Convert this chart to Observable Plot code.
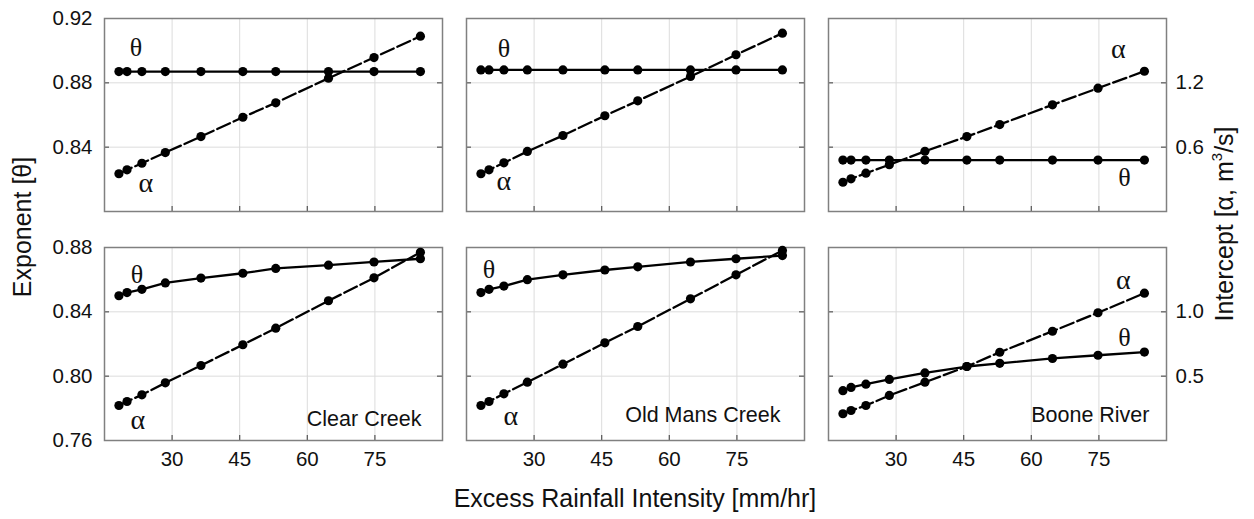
<!DOCTYPE html>
<html><head><meta charset="utf-8">
<script src="https://cdn.jsdelivr.net/npm/d3@7"></script>
<script src="https://cdn.jsdelivr.net/npm/@observablehq/plot@0.6"></script>
<style>
body{margin:0;background:#fff;}
#chart{position:relative;width:1254px;height:519px;overflow:hidden;background:#fff;font-family:"Liberation Sans",Arial,sans-serif;color:#111;}
.panel{position:absolute;}
.title{position:absolute;font-size:25px;white-space:nowrap;line-height:1;}
.rot{transform:translate(-50%,-50%) rotate(-90deg);}
.hor{transform:translate(-50%,-50%);}
sup{font-size:60%;vertical-align:0.7em;line-height:0;}
</style></head>
<body><div id="chart"></div>
<script>
// ---- data ----
const sites = ["Clear Creek", "Old Mans Creek", "Boone River"];
const intensity = [18.2, 20, 23.3, 28.5, 36.4, 45.7, 53, 64.7, 74.8, 85.1];
const xTicks = [30, 45, 60, 75];

// top row
const thetaTopClear   = [0.887, 0.887, 0.887, 0.887, 0.887, 0.887, 0.887, 0.887, 0.887, 0.887];
const alphaTopClear   = [0.352, 0.389, 0.450, 0.550, 0.699, 0.879, 1.014, 1.243, 1.436, 1.635];
const thetaTopOldMans = [0.888, 0.888, 0.888, 0.888, 0.888, 0.888, 0.888, 0.888, 0.888, 0.888];
const alphaTopOldMans = [0.352, 0.389, 0.454, 0.560, 0.709, 0.893, 1.032, 1.259, 1.462, 1.663];
const thetaTopBoone   = [0.832, 0.832, 0.832, 0.832, 0.832, 0.832, 0.832, 0.832, 0.832, 0.832];
const alphaTopBoone   = [0.273, 0.305, 0.357, 0.436, 0.562, 0.699, 0.811, 0.995, 1.150, 1.308];

// bottom row
const thetaBotClear   = [0.850, 0.852, 0.854, 0.858, 0.861, 0.864, 0.867, 0.869, 0.871, 0.873];
const alphaBotClear   = [0.272, 0.303, 0.355, 0.448, 0.583, 0.744, 0.873, 1.086, 1.264, 1.463];
const thetaBotOldMans = [0.852, 0.854, 0.856, 0.860, 0.863, 0.866, 0.868, 0.871, 0.873, 0.875];
const alphaBotOldMans = [0.272, 0.303, 0.363, 0.453, 0.593, 0.759, 0.886, 1.101, 1.288, 1.477];
const thetaBotBoone   = [0.791, 0.793, 0.795, 0.798, 0.802, 0.806, 0.808, 0.811, 0.813, 0.815];
const alphaBotBoone   = [0.208, 0.233, 0.272, 0.350, 0.453, 0.575, 0.686, 0.849, 0.993, 1.145];

// axes
const xDomain = [15, 90];
const thetaDomainTop = [0.80, 0.92], alphaDomainTop = [0, 1.8];
const thetaTicksTop = [0.84, 0.88, 0.92], thetaGridTop = [0.84, 0.88], alphaTicksTop = [0.6, 1.2];
const thetaDomainBot = [0.76, 0.88], alphaDomainBot = [0, 1.5];
const thetaTicksBot = [0.76, 0.80, 0.84, 0.88], thetaGridBot = [0.80, 0.84], alphaTicksBot = [0.5, 1.0];

// ---- layout ----
const PW = 338, PH = 193;
const colLeft = [104, 466, 828];
const rowTop = [18, 247];
const SANS = '"Liberation Sans", Arial, sans-serif';
const SERIF = '"Liberation Serif", "Times New Roman", serif';

const chart = document.getElementById("chart");

function panel(o) {
  const {col, row, theta, alpha, yDom, aDom, yTicks, yGrid, aTicks, site, siteDx, siteDy, thLab, alLab} = o;
  const ml = col === 0 ? 70 : 6, mr = col === 2 ? 50 : 6, mt = 6, mb = row === 1 ? 40 : 6;
  const toY = v => yDom[0] + (v - aDom[0]) / (aDom[1] - aDom[0]) * (yDom[1] - yDom[0]);
  const fromY = y => aDom[0] + (y - yDom[0]) / (yDom[1] - yDom[0]) * (aDom[1] - aDom[0]);
  const rows = intensity.map((x, i) => ({x, theta: theta[i], alphaY: toY(alpha[i])}));
  const marks = [
    Plot.gridX(xTicks, {stroke: "#dcdcdc", strokeOpacity: 1, strokeWidth: 1}),
    Plot.gridY(yGrid, {stroke: "#dcdcdc", strokeOpacity: 1, strokeWidth: 1}),
    Plot.tickY(yGrid, {y: d => d, insetRight: PW - 5, stroke: "#555", strokeWidth: 1.2}),
    Plot.tickY(yGrid, {y: d => d, insetLeft: PW - 5, stroke: "#555", strokeWidth: 1.2}),
    Plot.tickX(xTicks, {x: d => d, insetTop: PH - 5, stroke: "#555", strokeWidth: 1.2}),
    Plot.frame({stroke: "#808080", strokeWidth: 1.5}),
    Plot.line(rows, {x: "x", y: "theta", stroke: "#000", strokeWidth: 2.3}),
    Plot.line(rows, {x: "x", y: "alphaY", stroke: "#000", strokeWidth: 2.3, strokeDasharray: "14,4"}),
    Plot.dot(rows, {x: "x", y: "theta", r: 4.6, fill: "#000"}),
    Plot.dot(rows, {x: "x", y: "alphaY", r: 4.6, fill: "#000"}),
    Plot.text([{x: intensity[thLab[0]], y: theta[thLab[0]], t: "θ"}],
      {x: "x", y: "y", text: "t", dx: thLab[1], dy: thLab[2], fontFamily: SERIF, fontSize: 26, fill: "#111"}),
    Plot.text([{x: intensity[alLab[0]], y: toY(alpha[alLab[0]]), t: "α"}],
      {x: "x", y: "y", text: "t", dx: alLab[1], dy: alLab[2], fontFamily: SERIF, fontSize: 28, fill: "#111"})
  ];
  if (site) marks.push(Plot.text([site], {text: d => d, frameAnchor: "bottom-right", textAnchor: "end",
    dx: siteDx, dy: siteDy, fontSize: 21.5, fill: "#111"}));
  if (row === 1) marks.push(Plot.axisX(xTicks, {tickSize: 0, tickPadding: 11, label: null, fontSize: 20.5}));
  if (col === 0) marks.push(Plot.axisY(yTicks, {anchor: "left", tickSize: 0, tickPadding: 12, label: null,
    tickFormat: d3.format(".2f"), fontSize: 20.5}));
  if (col === 2) marks.push(Plot.axisY(aTicks.map(toY), {anchor: "right", tickSize: 0, tickPadding: 9, label: null,
    tickFormat: d => fromY(d).toFixed(1), fontSize: 20.5}));
  const svg = Plot.plot({
    width: ml + PW + mr, height: mt + PH + mb,
    marginLeft: ml, marginRight: mr, marginTop: mt, marginBottom: mb,
    x: {domain: xDomain, axis: null},
    y: {domain: yDom, axis: null},
    style: {background: "transparent", overflow: "visible", fontFamily: SANS, fontSize: "20px", color: "#111"},
    marks
  });
  svg.classList.add("panel");
  svg.style.position = "absolute";
  svg.style.left = (colLeft[col] - ml) + "px";
  svg.style.top = (rowTop[row] - mt) + "px";
  svg.style.maxWidth = "none";
  chart.appendChild(svg);
}

const topRow = {row: 0, yDom: thetaDomainTop, aDom: alphaDomainTop, yTicks: thetaTicksTop, yGrid: thetaGridTop, aTicks: alphaTicksTop};
const botRow = {row: 1, yDom: thetaDomainBot, aDom: alphaDomainBot, yTicks: thetaTicksBot, yGrid: thetaGridBot, aTicks: alphaTicksBot};

panel({...topRow, col: 0, theta: thetaTopClear, alpha: alphaTopClear, thLab: [1, 9, -24], alLab: [2, 4, 20]});
panel({...topRow, col: 1, theta: thetaTopOldMans, alpha: alphaTopOldMans, thLab: [2, 0, -21], alLab: [2, 0, 18]});
panel({...topRow, col: 2, theta: thetaTopBoone, alpha: alphaTopBoone, thLab: [9, -20, 18], alLab: [9, -26, -22]});
panel({...botRow, col: 0, theta: thetaBotClear, alpha: alphaBotClear, site: sites[0], siteDx: -21, siteDy: -15, thLab: [2, -5, -15], alLab: [2, -4, 25]});
panel({...botRow, col: 1, theta: thetaBotOldMans, alpha: alphaBotOldMans, site: sites[1], siteDx: -24, siteDy: -19, thLab: [1, 0, -20], alLab: [2, 7, 22]});
panel({...botRow, col: 2, theta: thetaBotBoone, alpha: alphaBotBoone, site: sites[2], siteDx: -17, siteDy: -19, thLab: [9, -20, -14], alLab: [9, -21, -13]});

function title(html, cx, cy, cls) {
  const d = document.createElement("div");
  d.className = "title " + cls;
  d.innerHTML = html;
  d.style.left = cx + "px";
  d.style.top = cy + "px";
  chart.appendChild(d);
}
title("Exponent [θ]", 22, 227, "rot");
title("Intercept [α, m<sup>3</sup>/s]", 1224, 224, "rot");
title("Excess Rainfall Intensity [mm/hr]", 635, 498, "hor");
</script>
</body></html>
